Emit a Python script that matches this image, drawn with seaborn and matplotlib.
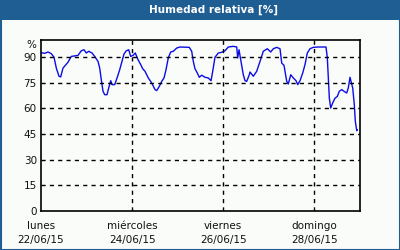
import matplotlib
matplotlib.use("Agg")
import matplotlib.pyplot as plt
import seaborn as sns
import pandas as pd
from matplotlib.patches import Rectangle

# --- data (time in days since lunes 22/06/15, relative humidity %) ---
dias = [0.0, 0.081, 0.154, 0.226, 0.285, 0.336, 0.395, 0.432, 0.483, 0.592, 0.665,
        0.812, 0.884, 0.944, 0.994, 1.047, 1.119, 1.178, 1.251, 1.288, 1.323, 1.361,
        1.398, 1.448, 1.486, 1.530, 1.558, 1.617, 1.674, 1.727, 1.777, 1.821, 1.872,
        1.925, 1.968, 2.019, 2.069, 2.129, 2.188, 2.232, 2.282, 2.355, 2.429, 2.502,
        2.539, 2.596, 2.649, 2.699, 2.743, 2.793, 2.846, 2.903, 2.978, 3.050, 3.254,
        3.307, 3.342, 3.379, 3.430, 3.474, 3.527, 3.599, 3.671, 3.731, 3.768, 3.818,
        3.891, 3.965, 4.038, 4.110, 4.220, 4.295, 4.316, 4.345, 4.382, 4.439, 4.477,
        4.514, 4.571, 4.586, 4.659, 4.733, 4.806, 4.878, 4.966, 5.041, 5.098, 5.172,
        5.245, 5.282, 5.332, 5.392, 5.427, 5.480, 5.537, 5.596, 5.633, 5.684, 5.743,
        5.793, 5.844, 5.903, 5.976, 6.085, 6.254, 6.283, 6.305, 6.327, 6.357, 6.401,
        6.452, 6.502, 6.546, 6.599, 6.649, 6.708, 6.743, 6.781, 6.803, 6.840, 6.875,
        6.897, 6.928, 6.941]
humedad = [92.6, 92.2, 93.0, 92.0, 90.0, 83.6, 78.8, 78.4, 83.6, 87.0, 90.4,
           91.0, 93.7, 94.3, 92.4, 93.4, 92.4, 90.4, 87.5, 83.6, 76.8, 70.0,
           68.0, 68.0, 72.0, 76.2, 73.9, 73.9, 78.2, 82.6, 87.5, 91.8, 93.7,
           94.3, 90.4, 91.0, 92.4, 88.5, 85.6, 83.2, 81.7, 77.8, 74.9, 71.0,
           70.4, 72.9, 75.8, 77.8, 82.6, 89.5, 93.0, 93.4, 95.3, 95.9, 95.7,
           93.4, 87.5, 83.2, 80.7, 78.2, 79.4, 78.2, 77.8, 76.2, 81.7, 89.9,
           92.4, 92.8, 93.7, 95.9, 96.3, 95.9, 89.5, 94.3, 88.5, 79.7, 76.2,
           75.8, 79.7, 81.3, 78.8, 81.7, 87.5, 93.4, 94.9, 93.0, 94.9, 95.7,
           94.9, 86.5, 85.2, 75.8, 74.3, 79.7, 77.8, 76.2, 73.9, 76.2, 80.7,
           85.6, 92.4, 94.9, 95.7, 95.9, 95.9, 89.5, 77.8, 66.0, 60.2, 63.2,
           66.0, 67.0, 70.0, 71.0, 70.0, 69.0, 72.0, 78.2, 75.8, 72.0, 62.2,
           52.5, 47.0, 47.5]

tick_dias = [0, 2, 4, 6]
tick_labels = ["lunes\n22/06/15", "miércoles\n24/06/15", "viernes\n26/06/15", "domingo\n28/06/15"]
y_ticks = [0, 15, 30, 45, 60, 75, 90]

df = pd.DataFrame({"dia": dias, "humedad": humedad})

sns.set_style("white")
plt.rcParams["font.family"] = ["DejaVu Sans"]

BG = "#f9fcf9"
BLUE_FRAME = "#1f5e93"

fig = plt.figure(figsize=(4, 2.5), dpi=100, facecolor=BG)
ax = fig.add_axes([41 / 400, 1 - 211 / 250, 319 / 400, 171 / 250])
ax.set_facecolor(BG)

sns.lineplot(data=df, x="dia", y="humedad", ax=ax, color="#0c0ce6", linewidth=1.0)

ax.set_xlim(0, 7)
ax.set_ylim(0, 100)
ax.set_xticks(tick_dias)
ax.set_xticklabels(tick_labels, fontsize=7.5, linespacing=1.55, color="#111111")
ax.set_xticks([1, 3, 5, 7], minor=True)
ax.set_yticks(y_ticks)
ax.set_yticklabels([str(v) for v in y_ticks], fontsize=7.5, color="#111111")
ax.tick_params(axis="x", which="both", direction="out", length=3, width=1, color="black", pad=4)
ax.tick_params(axis="y", length=0, pad=3)
ax.set_xlabel("")
ax.set_ylabel("")

for v in y_ticks[1:]:
    ax.axhline(v, color="black", linestyle=(0, (3, 3)), linewidth=1)
for d in tick_dias[1:]:
    ax.axvline(d, color="black", linestyle=(0, (3, 3)), linewidth=1)

for s in ax.spines.values():
    s.set_color("black")
    s.set_linewidth(1.2)

# % label above y axis
fig.text(31 / 400, 1 - 45 / 250, "%", fontsize=7.5, ha="center", va="center", color="#111111")

# title bar and frame
fig.patches.append(Rectangle((0, 1 - 20 / 250), 1, 20 / 250, transform=fig.transFigure,
                             facecolor=BLUE_FRAME, edgecolor="none", zorder=0))
fig.patches.append(Rectangle((0.5 / 400, 0.5 / 250), 399 / 400, 249 / 250, transform=fig.transFigure,
                             facecolor="none", edgecolor=BLUE_FRAME, linewidth=1.5, zorder=1))
fig.text(213.5 / 400, 1 - 10 / 250, "Humedad relativa [%]", fontsize=7.5, fontweight="bold",
         color="white", ha="center", va="center")

fig.savefig("out.png", dpi=100, facecolor=BG)
